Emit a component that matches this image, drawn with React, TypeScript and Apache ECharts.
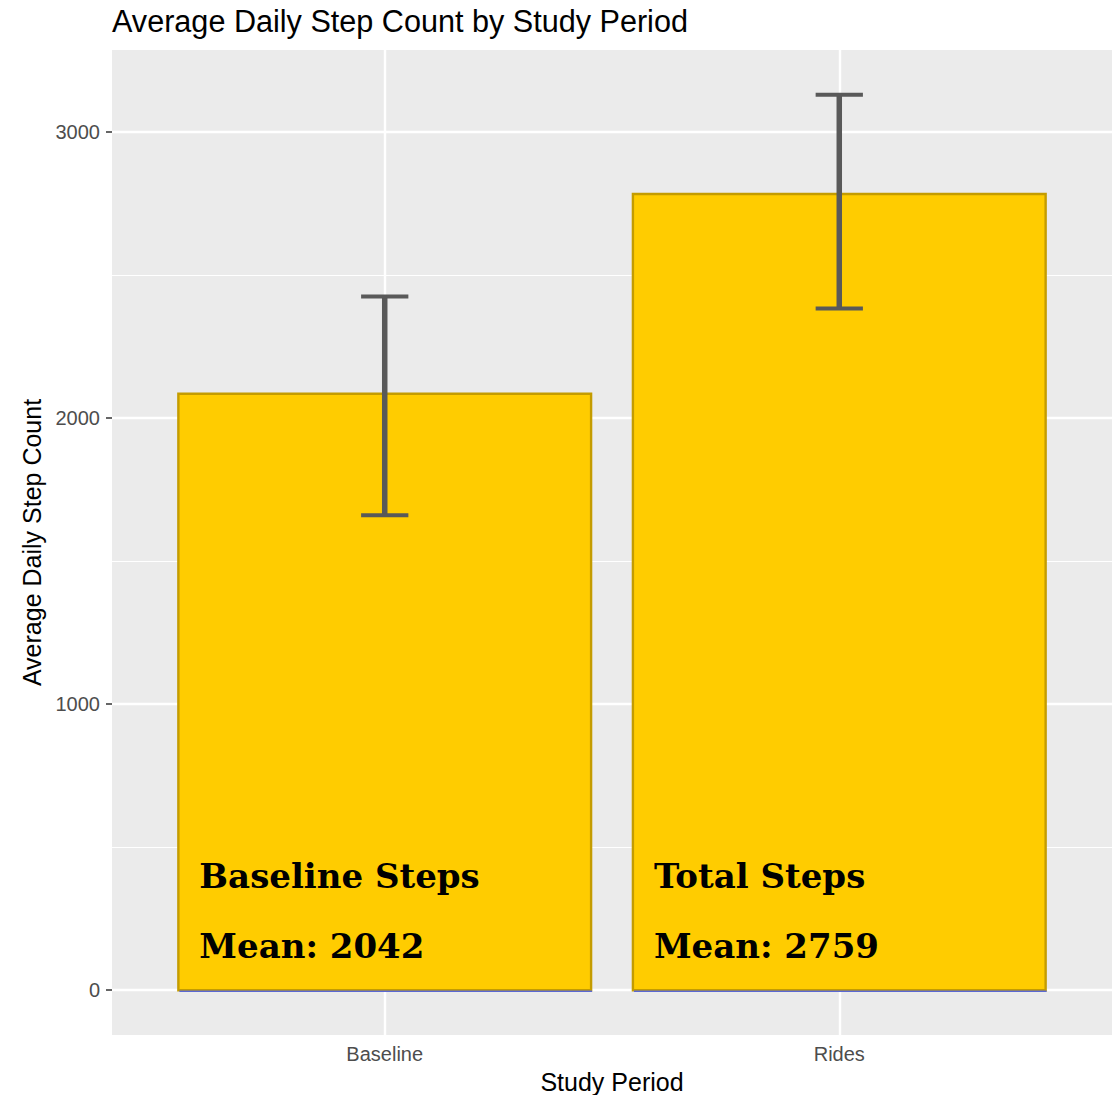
import React, { useEffect, useRef } from "react";
import * as echarts from "echarts";

const categories = ["Baseline", "Rides"];
const barValues = [2085, 2783];
const errorLow = [1660, 2383];
const errorHigh = [2425, 3130];
const annotationTitles = ["Baseline Steps", "Total Steps"];
const annotationMeans = [2042, 2759];
const yMajorTicks = [0, 1000, 2000, 3000];
const yMinorTicks = [500, 1500, 2500];
const xTicks = [1, 2];

const BAR_HALF = 0.454;
const CAP_HALF = 0.052;

export default function App() {
  const ref = useRef<HTMLDivElement>(null);

  useEffect(() => {
    if (!ref.current) return;
    const chart = echarts.init(ref.current, null, { renderer: "svg" });

    const data = categories.map((c, i) => [i + 1, barValues[i], errorLow[i], errorHigh[i]]);

    const gridLines: any[] = [
      ...yMajorTicks.map((v) => ({ yAxis: v, lineStyle: { color: "#ffffff", width: 2.4, type: "solid" } })),
      ...yMinorTicks.map((v) => ({ yAxis: v, lineStyle: { color: "#ffffff", width: 1.2, type: "solid" } })),
      ...xTicks.map((v) => ({ xAxis: v, lineStyle: { color: "#ffffff", width: 2.4, type: "solid" } })),
    ];

    chart.setOption({
      animation: false,
      backgroundColor: "#ffffff",
      title: {
        text: "Average Daily Step Count by Study Period",
        left: 112,
        top: 5,
        padding: 0,
        textStyle: {
          fontFamily: "Liberation Sans",
          fontSize: 30.6,
          fontWeight: "normal",
          color: "#000000",
        },
      },
      grid: {
        left: 112,
        right: 7,
        top: 50,
        bottom: 60,
        show: true,
        backgroundColor: "#ebebeb",
        borderWidth: 0,
        containLabel: false,
        outerBoundsMode: "none",
      },
      xAxis: {
        type: "value",
        min: 0.4,
        max: 2.6,
        name: "Study Period",
        nameLocation: "middle",
        nameGap: 34,
        nameTextStyle: { fontFamily: "Liberation Sans", fontSize: 25, color: "#000000" },
        axisLine: { show: false },
        splitLine: { show: false },
        axisTick: {
          show: true,
          customValues: xTicks,
          length: 6,
          lineStyle: { color: "#333333", width: 1.5 },
        },
        axisLabel: {
          customValues: xTicks,
          formatter: (v: number) => categories[Math.round(v) - 1] ?? "",
          fontFamily: "Liberation Sans",
          fontSize: 20,
          color: "#4d4d4d",
          margin: 9,
        },
      },
      yAxis: {
        type: "value",
        min: -156.5,
        max: 3286.5,
        name: "Average Daily Step Count",
        nameLocation: "middle",
        nameGap: 60,
        nameTextStyle: { fontFamily: "Liberation Sans", fontSize: 25, color: "#000000" },
        axisLine: { show: false },
        splitLine: { show: false },
        axisTick: {
          show: true,
          customValues: yMajorTicks,
          length: 6,
          lineStyle: { color: "#333333", width: 1.5 },
        },
        axisLabel: {
          customValues: yMajorTicks,
          formatter: (v: number) => String(v),
          fontFamily: "Liberation Sans",
          fontSize: 20,
          color: "#4d4d4d",
          margin: 12,
        },
      },
      series: [
        {
          type: "line",
          data: [],
          z: 1,
          silent: true,
          markLine: {
            z: 1,
            silent: true,
            symbol: "none",
            label: { show: false },
            data: gridLines,
          },
        },
        {
          type: "custom",
          z: 10,
          data,
          encode: { x: 0, y: [1, 2, 3] },
          renderItem: (params: any, api: any) => {
            const i = params.dataIndex;
            const x = api.value(0);
            const v = api.value(1);
            const lo = api.value(2);
            const hi = api.value(3);
            const tl = api.coord([x - BAR_HALF, v]);
            const br = api.coord([x + BAR_HALF, 0]);
            const pLo = api.coord([x, lo]);
            const pHi = api.coord([x, hi]);
            const capL = api.coord([x - CAP_HALF, hi]);
            const capR = api.coord([x + CAP_HALF, hi]);
            const capLlo = api.coord([x - CAP_HALF, lo]);
            const capRlo = api.coord([x + CAP_HALF, lo]);
            const textFont = 'bold 34px "DejaVu Serif", "Liberation Serif", serif';
            return {
              type: "group",
              children: [
                {
                  type: "rect",
                  shape: { x: tl[0], y: tl[1], width: br[0] - tl[0], height: br[1] - tl[1] },
                  style: { fill: "#ffcc00", stroke: "#c49c00", lineWidth: 2.4 },
                },
                {
                  type: "line",
                  shape: { x1: tl[0] + 1, y1: br[1] + 1, x2: br[0] + 1, y2: br[1] + 1 },
                  style: { stroke: "#5a68d4", lineWidth: 1.6 },
                },
                {
                  type: "line",
                  shape: { x1: pLo[0], y1: pLo[1], x2: pHi[0], y2: pHi[1] },
                  style: { stroke: "#595959", lineWidth: 5.5 },
                },
                {
                  type: "line",
                  shape: { x1: capL[0], y1: capL[1], x2: capR[0], y2: capR[1] },
                  style: { stroke: "#595959", lineWidth: 4 },
                },
                {
                  type: "line",
                  shape: { x1: capLlo[0], y1: capLlo[1], x2: capRlo[0], y2: capRlo[1] },
                  style: { stroke: "#595959", lineWidth: 4 },
                },
                {
                  type: "text",
                  x: tl[0] + 21,
                  y: br[1] - 114,
                  style: {
                    text: annotationTitles[i],
                    font: textFont,
                    fill: "#000000",
                    align: "left",
                    verticalAlign: "middle",
                  },
                },
                {
                  type: "text",
                  x: tl[0] + 21,
                  y: br[1] - 44,
                  style: {
                    text: `Mean: ${annotationMeans[i]}`,
                    font: textFont,
                    fill: "#000000",
                    align: "left",
                    verticalAlign: "middle",
                  },
                },
              ],
            };
          },
        },
      ],
    });

    return () => {
      chart.dispose();
    };
  }, []);

  return (
    <div
      ref={ref}
      style={{ position: "absolute", left: 0, top: 0, width: 1119, height: 1095, background: "#ffffff" }}
    />
  );
}
